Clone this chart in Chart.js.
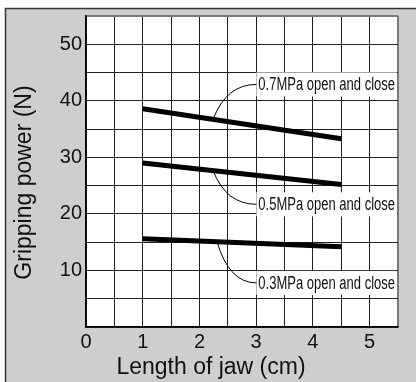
<!DOCTYPE html>
<html>
<head>
<meta charset="utf-8">
<script src="https://cdn.jsdelivr.net/npm/chart.js@4"></script>
<style>
  html, body { margin: 0; padding: 0; background: #fff; }
  #wrap { width: 416px; height: 382px; position: relative; }
</style>
</head>
<body>
<div id="wrap"><canvas id="chart" width="416" height="382"></canvas></div>
<script>
// Jaw length (cm) at each end of the lines
const jawLength = [1, 4.5];
// Gripping power (N) per pressure
const power07 = [38.6, 33.3];
const power05 = [29.0, 25.2];
const power03 = [15.6, 14.2];
const seriesLabels = ['0.7MPa open and close', '0.5MPa open and close', '0.3MPa open and close'];
// where each leader starts on its line (x) and where the label sits (y)
const leaderX = [2.24, 2.24, 2.31];
const labelY = [42.9, 21.7, 7.8];
const labelX = 3.02;

const xTitle = 'Length of jaw (cm)';
const yTitle = 'Gripping power (N)';

const BG = '#cecece';
const GRID = '#222';
const EDGE = '#7a7a7a';
const FONT = '"Liberation Sans", Arial, sans-serif';

function toPoints(ys) {
    return jawLength.map((x, i) => ({ x: x, y: ys[i] }));
}

const allSeries = [power07, power05, power03];

const datasets = allSeries.map((ys, i) => ({
    label: seriesLabels[i],
    data: toPoints(ys),
    borderColor: '#000',
    borderWidth: 5,
    borderCapStyle: 'butt',
    pointRadius: 0,
    fill: false,
    tension: 0
}));

// gray frame behind everything, white plot area
const backdrop = {
    id: 'backdrop',
    beforeDraw(chart) {
        const ctx = chart.ctx;
        const a = chart.chartArea;
        ctx.save();
        ctx.fillStyle = '#fff';
        ctx.fillRect(0, 0, chart.width, chart.height);
        ctx.fillStyle = BG;
        ctx.fillRect(5, 8, chart.width - 5, chart.height - 8);
        ctx.strokeStyle = '#333';
        ctx.lineWidth = 1.5;
        ctx.beginPath();
        ctx.moveTo(5.5, chart.height);
        ctx.lineTo(5.5, 8.5);
        ctx.lineTo(chart.width, 8.5);
        ctx.stroke();
        ctx.fillStyle = '#fff';
        ctx.fillRect(a.left, a.top, a.right - a.left, a.bottom - a.top);
        ctx.restore();
    }
};

// axis titles: the original centres them on the frame, not the plot area
const axisTitles = {
    id: 'axisTitles',
    afterDraw(chart) {
        const ctx = chart.ctx;
        const a = chart.chartArea;
        ctx.save();
        ctx.fillStyle = '#111';
        ctx.font = '23px ' + FONT;
        ctx.textAlign = 'center';
        ctx.textBaseline = 'middle';
        ctx.fillText(xTitle, chart.width / 2 + 3, a.bottom + 41);
        ctx.translate(25, (a.top + a.bottom) / 2 + 11);
        ctx.rotate(-Math.PI / 2);
        ctx.fillText(yTitle, 0, 0);
        ctx.restore();
    }
};

// leader curves + boxed labels (text squeezed to look like a narrow face)
const leaders = {
    id: 'leaders',
    afterDatasetsDraw(chart) {
        const ctx = chart.ctx;
        const xs = chart.scales.x;
        const ys = chart.scales.y;
        const a = chart.chartArea;
        ctx.save();
        ctx.font = '18px ' + FONT;
        ctx.textBaseline = 'middle';
        allSeries.forEach((vals, i) => {
            const t = (leaderX[i] - jawLength[0]) / (jawLength[1] - jawLength[0]);
            const yOnLine = vals[0] + t * (vals[1] - vals[0]);
            const sx = xs.getPixelForValue(leaderX[i]);
            const sy = ys.getPixelForValue(yOnLine);
            const lx = xs.getPixelForValue(labelX);
            const ly = ys.getPixelForValue(labelY[i]);

            // white box behind text
            ctx.fillStyle = '#fff';
            ctx.fillRect(lx - 1, ly - 12, a.right - lx, 24);

            ctx.strokeStyle = '#000';
            ctx.lineWidth = 1;
            ctx.beginPath();
            ctx.moveTo(sx, sy);
            ctx.quadraticCurveTo(sx + (lx - sx) * 0.3, ly, lx - 1, ly);
            ctx.stroke();

            const room = a.right - lx - 4;
            const w = ctx.measureText(seriesLabels[i]).width;
            ctx.save();
            ctx.translate(lx + 1, ly + 1);
            ctx.scale(room / w, 1);
            ctx.fillStyle = '#111';
            ctx.fillText(seriesLabels[i], 0, 0);
            ctx.restore();
        });
        ctx.restore();
    }
};

new Chart(document.getElementById('chart'), {
    type: 'line',
    data: { datasets: datasets },
    plugins: [backdrop, leaders, axisTitles],
    options: {
        responsive: false,
        animation: false,
        layout: { padding: { top: 15, right: 18, left: 0, bottom: 0 } },
        plugins: {
            legend: { display: false },
            tooltip: { enabled: false }
        },
        scales: {
            x: {
                type: 'linear',
                min: 0,
                max: 5.5,
                afterFit: (s) => { s.height = 55; },
                ticks: {
                    stepSize: 0.5,
                    color: '#111',
                    padding: 3,
                    font: { family: FONT, size: 20 },
                    callback: (v) => Number.isInteger(v) ? String(v) : ''
                },
                grid: {
                    drawTicks: false,
                    color: (c) => (c.tick && c.tick.value === 5.5) ? EDGE : GRID,
                    lineWidth: (c) => (c.tick && c.tick.value === 5.5) ? 2 : 1
                },
                border: { color: '#000', width: 1.5 },
                title: { display: false, text: xTitle }
            },
            y: {
                type: 'linear',
                min: 0,
                max: 55,
                afterFit: (s) => { s.width = 86; },
                ticks: {
                    stepSize: 5,
                    color: '#111',
                    padding: 4,
                    font: { family: FONT, size: 20 },
                    callback: (v) => (v > 0 && v % 10 === 0) ? String(v) : ''
                },
                grid: {
                    drawTicks: false,
                    color: (c) => (c.tick && c.tick.value === 55) ? EDGE : GRID,
                    lineWidth: (c) => (c.tick && c.tick.value === 55) ? 2 : 1
                },
                border: { color: '#000', width: 1.5 },
                title: { display: false, text: yTitle }
            }
        }
    }
});
</script>
</body>
</html>
